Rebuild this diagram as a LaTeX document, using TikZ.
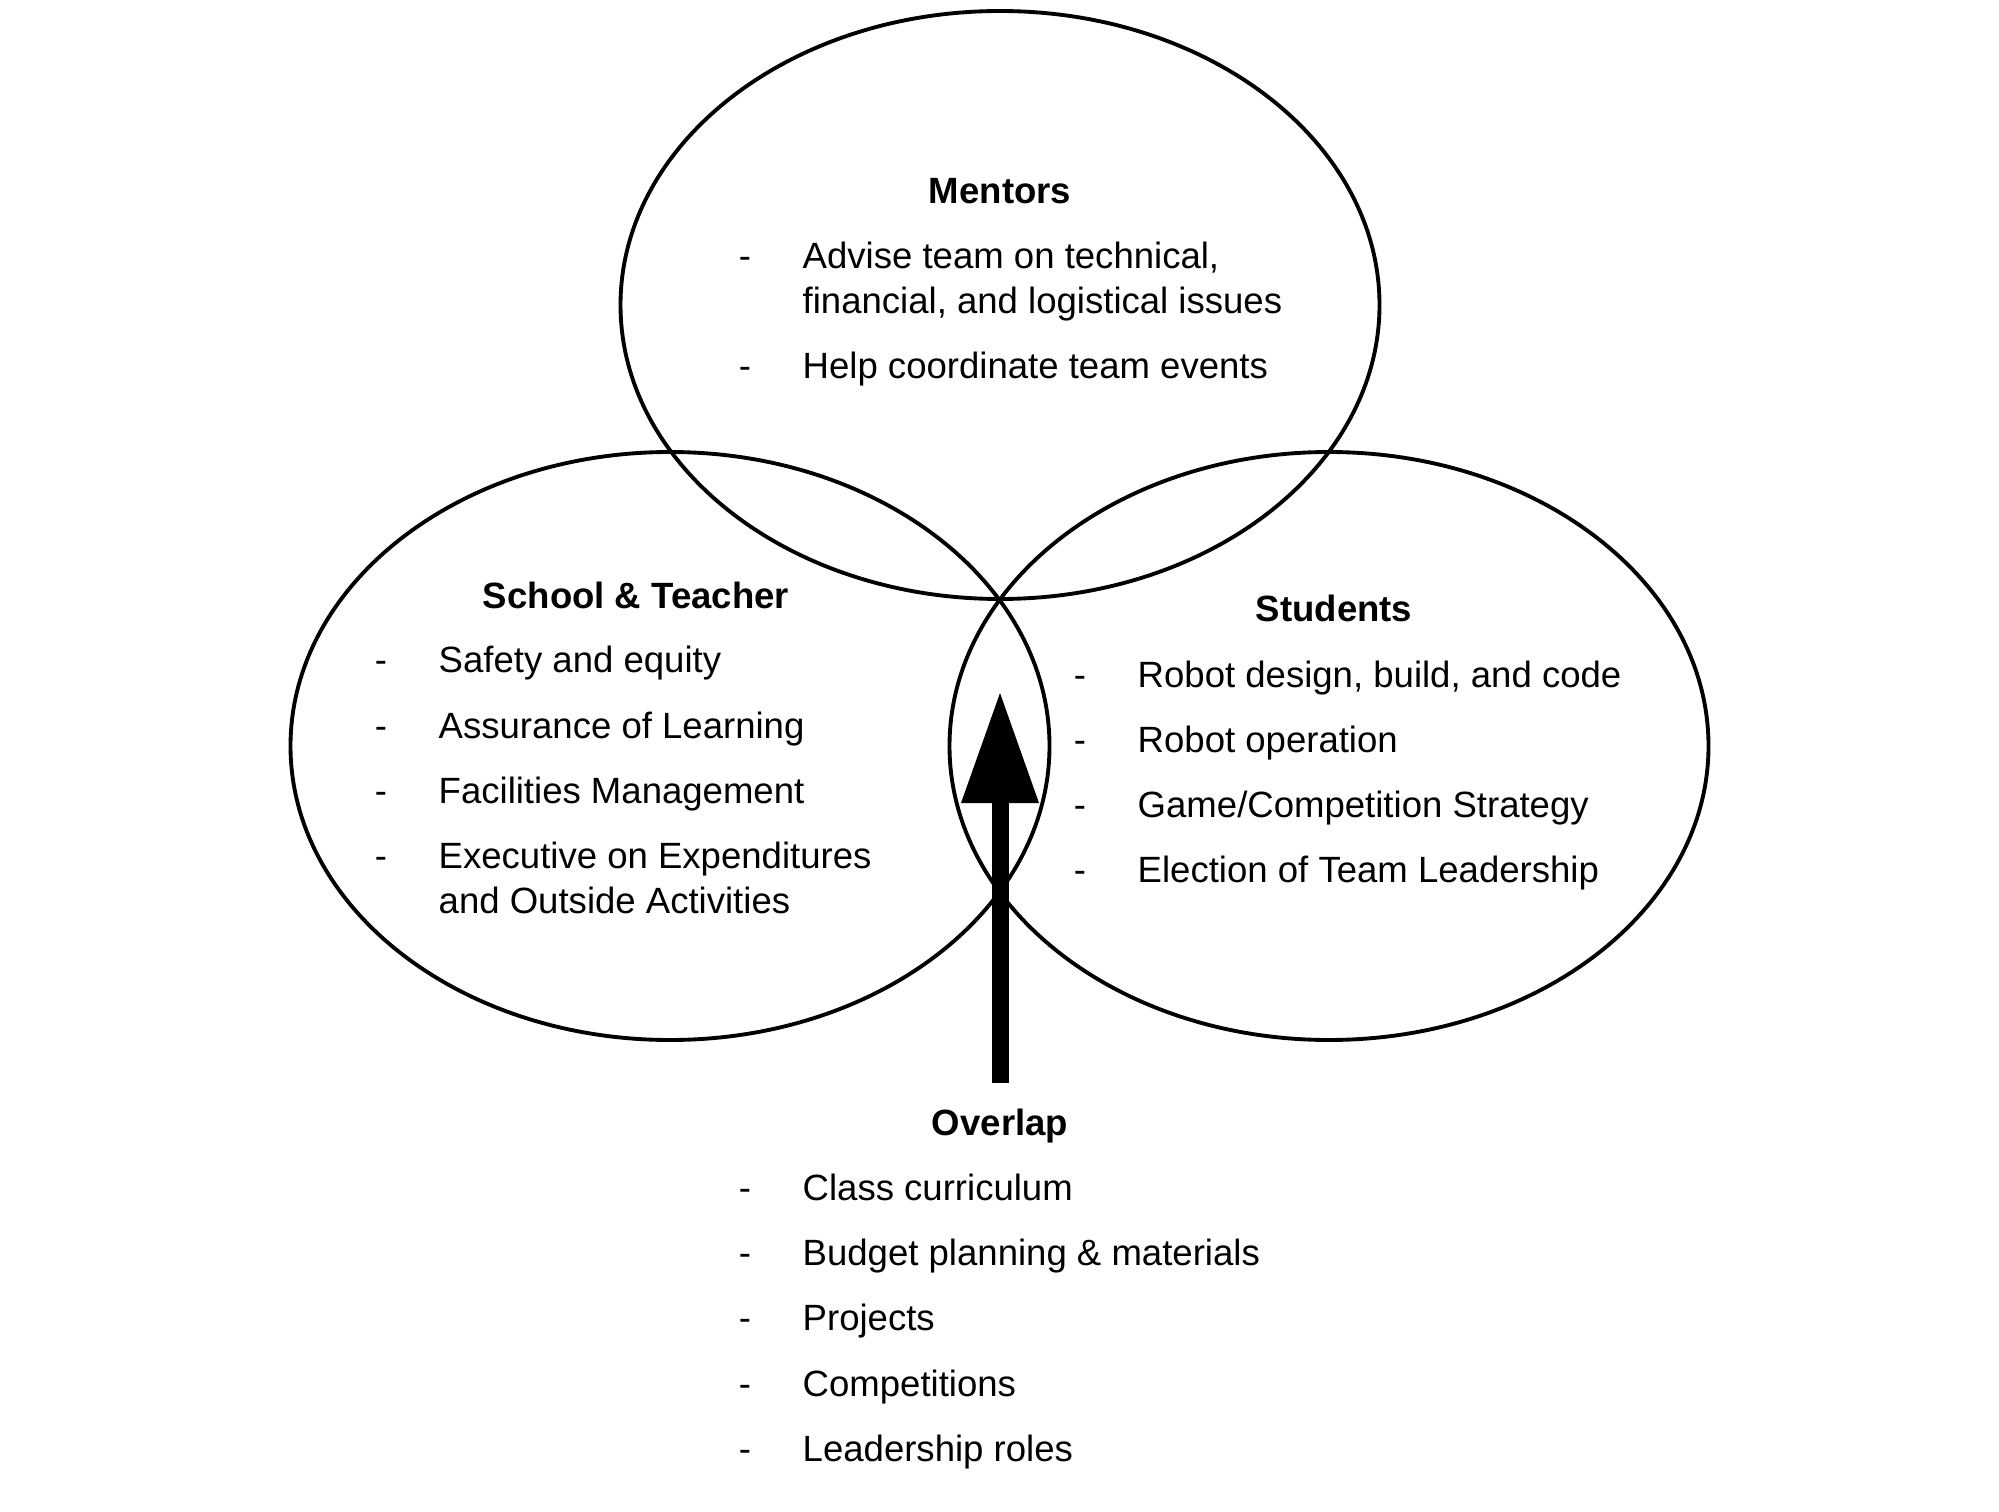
\documentclass[tikz,border=0pt]{standalone}
\usepackage{fontspec}
\setmainfont{Liberation Sans}
\usetikzlibrary{arrows.meta,positioning,shapes.geometric}
\tikzset{
 ring/.style={draw,ellipse,line width=1.1pt,minimum width=75.9mm,
             minimum height=58.8mm,inner sep=0pt},
 head/.style={font=\bfseries\fontsize{10.4}{12.8}\selectfont,anchor=base,inner sep=0pt},
 entry/.style={font=\fontsize{10.4}{12.8}\selectfont,anchor=base west,inner sep=0pt},
 hyph/.style={font=\fontsize{10.4}{12.8}\selectfont,anchor=base,inner sep=0pt},
 bigarrow/.style={-{Triangle[length=11mm,width=7.8mm,line width=0pt]},line width=1.7mm}
}
\begin{document}
\begin{tikzpicture}[x=0.1mm,y=-0.1mm]
\useasboundingbox (0,0) rectangle (1999,1512);
% the three circles
\node[ring] (mentors) at (1000,305) {};
\node[ring] (school) at (670,746) {};
\node[ring] (students) at (1329,746) {};
% Mentors
\node[head] (mtitle) at (1000,204) {Mentors};
\node[hyph] (m1d) at (745,269) {-};
\node[entry] (m1) at (802,269) {Advise team on technical,};
\node[entry] (m1b) at (802,314) {financial, and logistical issues};
\node[hyph] (m2d) at (745,379) {-};
\node[entry] (m2) at (802,379) {Help coordinate team events};
% School & Teacher
\node[head] (stitle) at (636,608) {School \& Teacher};
\node[hyph] (s1d) at (381,673) {-};
\node[entry] (s1) at (438,673) {Safety and equity};
\node[hyph] (s2d) at (381,738) {-};
\node[entry] (s2) at (438,738) {Assurance of Learning};
\node[hyph] (s3d) at (381,803) {-};
\node[entry] (s3) at (438,803) {Facilities Management};
\node[hyph] (s4d) at (381,868) {-};
\node[entry] (s4) at (438,868) {Executive on Expenditures};
\node[entry] (s4b) at (438,913) {and Outside Activities};
% Students
\node[head] (ttitle) at (1334,622) {Students};
\node[hyph] (t1d) at (1080,687) {-};
\node[entry] (t1) at (1137,687) {Robot design, build, and code};
\node[hyph] (t2d) at (1080,752) {-};
\node[entry] (t2) at (1137,752) {Robot operation};
\node[hyph] (t3d) at (1080,817) {-};
\node[entry] (t3) at (1137,817) {Game/Competition Strategy};
\node[hyph] (t4d) at (1080,882) {-};
\node[entry] (t4) at (1137,882) {Election of Team Leadership};
% Overlap
\node[head] (otitle) at (1000,1135) {Overlap};
\node[hyph] (o1d) at (745,1200) {-};
\node[entry] (o1) at (802,1200) {Class curriculum};
\node[hyph] (o2d) at (745,1265) {-};
\node[entry] (o2) at (802,1265) {Budget planning \& materials};
\node[hyph] (o3d) at (745,1330) {-};
\node[entry] (o3) at (802,1330) {Projects};
\node[hyph] (o4d) at (745,1396) {-};
\node[entry] (o4) at (802,1396) {Competitions};
\node[hyph] (o5d) at (745,1461) {-};
\node[entry] (o5) at (802,1461) {Leadership roles};
% arrow into the middle
\coordinate (arrowfoot) at (1000,1083);
\coordinate (arrowtip) at (1000,693);
\draw[bigarrow] (arrowfoot) -- (arrowtip);
\end{tikzpicture}
\end{document}
